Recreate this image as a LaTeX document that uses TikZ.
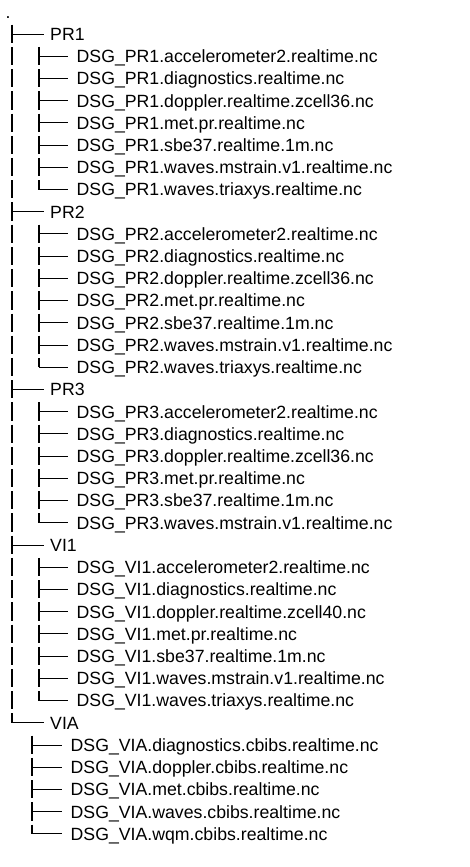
\documentclass[tikz,border=0pt]{standalone}
\usepackage{fontspec}
\setmainfont{Liberation Sans}
\usetikzlibrary{positioning}

\begin{document}
\begin{tikzpicture}[x=1pt,y=-22.22pt,
 entry/.style={anchor=west,inner sep=0pt,text height=16pt,text depth=3.3pt,
   font=\fontsize{17.7}{20}\selectfont},
 branch/.style={line width=1pt,shorten >=#1},
 branch/.default=8pt,
 bar/.style={line width=1.2pt}]
\useasboundingbox (0,-0.53) rectangle (470,38.49);
\node[entry] (root) at (5.5,0) {.};
% one group per folder: name/row/number of files/bar x/text x/files
\foreach \g/\r/\n/\bx/\tx/\files in {
  PR1/1/7/39/76.5/{accelerometer2.realtime,diagnostics.realtime,doppler.realtime.zcell36,met.pr.realtime,sbe37.realtime.1m,waves.mstrain.v1.realtime,waves.triaxys.realtime},
  PR2/9/7/39/76.5/{accelerometer2.realtime,diagnostics.realtime,doppler.realtime.zcell36,met.pr.realtime,sbe37.realtime.1m,waves.mstrain.v1.realtime,waves.triaxys.realtime},
  PR3/17/6/39/76.5/{accelerometer2.realtime,diagnostics.realtime,doppler.realtime.zcell36,met.pr.realtime,sbe37.realtime.1m,waves.mstrain.v1.realtime},
  VI1/24/7/39/76.5/{accelerometer2.realtime,diagnostics.realtime,doppler.realtime.zcell40,met.pr.realtime,sbe37.realtime.1m,waves.mstrain.v1.realtime,waves.triaxys.realtime},
  VIA/32/5/32/70.5/{diagnostics.cbibs.realtime,doppler.cbibs.realtime,met.cbibs.realtime,waves.cbibs.realtime,wqm.cbibs.realtime}}{
  \coordinate (k\g) at (12,\r);
  \node[entry] (\g) at (50,\r) {\g};
  \draw[branch=6pt] (k\g) -- (\g.west);
  \ifnum\r<32 \draw[bar] (k\g) ++(0,-0.42) -- ++(0,0.82);
  \else \draw[bar] (k\g) ++(0,-0.42) -- (k\g); \fi
  \foreach \f [count=\i] in \files {
    \pgfmathtruncatemacro\fr{\r+\i}
    \coordinate (k\g-\i) at (\bx,\fr);
    \node[entry] (\g-\i) at (\tx,\fr) {DSG\_\g.\f.nc};
    \draw[branch] (k\g-\i) -- (\g-\i.west);
    \ifnum\i=\n \draw[bar] (k\g-\i) ++(0,-0.42) -- (k\g-\i);
    \else \draw[bar] (k\g-\i) ++(0,-0.42) -- ++(0,0.82); \fi
    \ifnum\r<32 \draw[bar] (12,\fr) ++(0,-0.42) -- ++(0,0.82); \fi
  }
}
\end{tikzpicture}
\end{document}
